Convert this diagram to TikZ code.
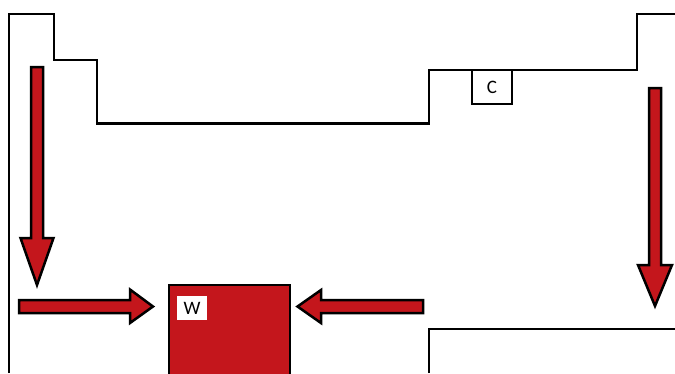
\documentclass[tikz,border=0pt]{standalone}
\usepackage{fontspec}
\setmainfont{Carlito}
\definecolor{firered}{HTML}{C4161C}
\begin{document}
\begin{tikzpicture}[x=1pt,y=-1pt,
  wall/.style={draw=black,line width=2.7pt,line join=miter},
  flow/.style={draw=black,fill=firered,line width=2.5pt,line join=miter},
  label/.style={font=\fontsize{19}{19}\selectfont},
  tag/.style={label,draw=none,fill=white,inner sep=0pt,minimum width=30pt,minimum height=24pt}]
\useasboundingbox (0,0) rectangle (675,373);
% outer walls
\draw[wall] (9,373) -- (9,14) -- (54,14) -- (54,60) -- (97,60) -- (97,123.5)
  -- (429,123.5) -- (429,70) -- (637,70) -- (637,14) -- (675,14);
\draw[wall] (429,373) -- (429,329) -- (675,329);
% small room C
\node[label,draw=black,line width=2.3pt,minimum width=40pt,minimum height=34pt,inner sep=0pt]
  (c) at (492,87) {C};
% red block W
\node[draw=black,fill=firered,line width=2.7pt,minimum width=121pt,minimum height=100pt,inner sep=0pt]
  (w) at (229.5,335) {};
\node[tag] (wl) at (192,308) {W};
% flow arrows
\draw[flow] (31,67) -- (43,67) -- (43,238) -- (53.5,238) -- (37,285) -- (20.5,238) -- (31,238) -- cycle;
\draw[flow] (649,88) -- (661,88) -- (661,265) -- (672,265) -- (655,306) -- (638,265) -- (649,265) -- cycle;
\draw[flow] (19,300) -- (130,300) -- (130,289.5) -- (153,306.5) -- (130,323) -- (130,313) -- (19,313) -- cycle;
\draw[flow] (423,300) -- (321,300) -- (321,290) -- (297.5,306.5) -- (321,323) -- (321,313) -- (423,313) -- cycle;
\end{tikzpicture}
\end{document}
